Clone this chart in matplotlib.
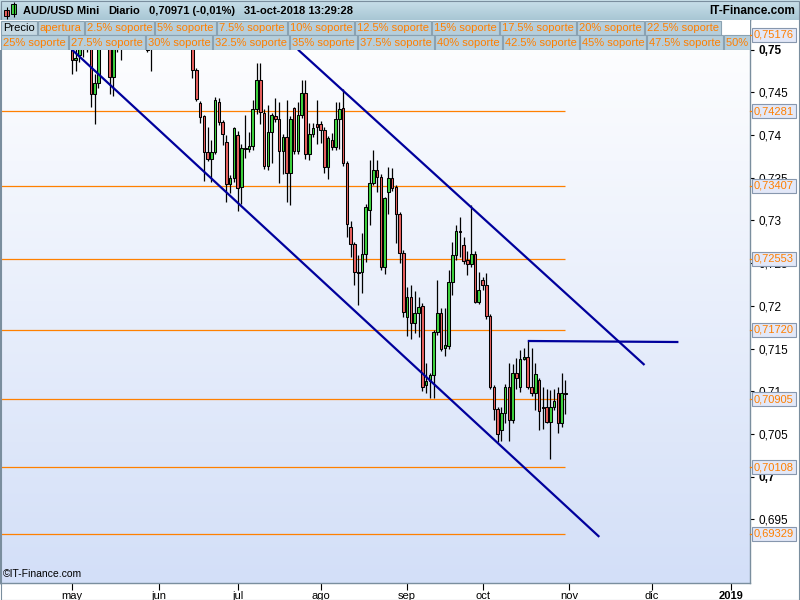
import numpy as np
import pandas as pd
import matplotlib
matplotlib.use('Agg')
import matplotlib.pyplot as plt
import matplotlib.transforms as mtransforms
from matplotlib.patches import Rectangle
from matplotlib.colors import LinearSegmentedColormap

plt.rcParams['font.family'] = ['Liberation Sans', 'DejaVu Sans']

# daily AUD/USD candles, one per weekday starting 1 May 2018
first_day = '2018-05-01'
opens = [.7501, .7488, .7494, .7520, .7512, .7520, .7448, .7461, .7515, .7525,
         .7518, .7468, .7515, .7522, .7530, .7540, .7535, .7548, .7538, .7530,
         .7505, .7510, .7525, .7560, .7590, .7610, .7600, .7620, .7600, .7610,
         .7580, .7560, .7530, .7476, .7437, .7422, .7380, .7372, .7380, .7439,
         .7415, .7392, .7343, .7350, .7400, .7339, .7385, .7384, .7387, .7430,
         .7464, .7426, .7364, .7403, .7422, .7419, .7381, .7398, .7355, .7432,
         .7381, .7423, .7449, .7378, .7401, .7413, .7413, .7406, .7362, .7394,
         .7386, .7419, .7432, .7367, .7292, .7272, .7240, .7240, .7261, .7312,
         .7344, .7359, .7351, .7245, .7333, .7350, .7339, .7307, .7262, .7187,
         .7210, .7180, .7192, .7200, .7107, .7112, .7119, .7169, .7191, .7151,
         .7153, .7228, .7260, .7288, .7271, .7254, .7249, .7261, .7205, .7230,
         .7224, .7188, .7105, .7079, .7055, .7075, .7105, .7066, .7121, .7105,
         .7138, .7140, .7105, .7098, .7113, .7081, .7081, .7064, .7081, .7098,
         .7063, .7098]
highs = [.7512, .7503, .7522, .7530, .7535, .7528, .7472, .7522, .7540, .7535,
         .7525, .7522, .7532, .7540, .7550, .7552, .7560, .7558, .7550, .7540,
         .7515, .7535, .7570, .7600, .7625, .7630, .7640, .7630, .7625, .7620,
         .7590, .7570, .7540, .7478, .7440, .7424, .7409, .7394, .7444, .7443,
         .7418, .7400, .7353, .7409, .7405, .7390, .7423, .7403, .7441, .7484,
         .7484, .7430, .7435, .7426, .7443, .7439, .7401, .7441, .7422, .7433,
         .7439, .7464, .7464, .7414, .7414, .7441, .7416, .7409, .7399, .7402,
         .7439, .7439, .7454, .7370, .7299, .7275, .7260, .7285, .7319, .7371,
         .7382, .7371, .7354, .7328, .7362, .7361, .7342, .7310, .7265, .7222,
         .7224, .7217, .7210, .7203, .7133, .7121, .7172, .7230, .7198, .7198,
         .7242, .7275, .7295, .7304, .7281, .7264, .7318, .7264, .7240, .7234,
         .7238, .7190, .7107, .7082, .7082, .7108, .7133, .7132, .7139, .7148,
         .7151, .7159, .7151, .7133, .7116, .7105, .7102, .7101, .7103, .7105,
         .7121, .7113]
lows = [.7472, .7475, .7485, .7491, .7497, .7433, .7413, .7455, .7508, .7506,
        .7448, .7446, .7497, .7488, .7515, .7520, .7525, .7525, .7518, .7505,
        .7497, .7475, .7515, .7550, .7580, .7585, .7590, .7590, .7585, .7570,
        .7540, .7520, .7467, .7440, .7414, .7346, .7369, .7345, .7378, .7412,
        .7388, .7322, .7332, .7345, .7311, .7319, .7373, .7380, .7383, .7425,
        .7413, .7360, .7359, .7367, .7415, .7344, .7354, .7322, .7318, .7378,
        .7378, .7420, .7372, .7371, .7398, .7389, .7391, .7355, .7348, .7383,
        .7383, .7384, .7364, .7281, .7257, .7224, .7201, .7215, .7251, .7295,
        .7341, .7333, .7242, .7237, .7307, .7335, .7274, .7250, .7187, .7165,
        .7161, .7168, .7164, .7100, .7098, .7092, .7092, .7166, .7147, .7141,
        .7150, .7213, .7254, .7257, .7249, .7236, .7246, .7203, .7202, .7219,
        .7185, .7102, .7066, .7041, .7042, .7063, .7042, .7063, .7102, .7099,
        .7136, .7102, .7094, .7078, .7055, .7056, .7063, .7021, .7078, .7051,
        .7058, .7073]
closes = [.7488, .7490, .7515, .7510, .7525, .7448, .7461, .7515, .7525, .7518,
          .7468, .7515, .7522, .7530, .7540, .7535, .7548, .7538, .7530, .7512,
          .7500, .7525, .7560, .7590, .7610, .7600, .7620, .7600, .7610, .7580,
          .7560, .7530, .7476, .7442, .7421, .7380, .7372, .7380, .7441, .7415,
          .7401, .7343, .7350, .7408, .7338, .7385, .7384, .7387, .7430, .7465,
          .7427, .7364, .7403, .7424, .7419, .7381, .7398, .7355, .7419, .7381,
          .7423, .7449, .7378, .7401, .7408, .7409, .7406, .7362, .7396, .7386,
          .7419, .7430, .7367, .7296, .7272, .7240, .7239, .7261, .7316, .7344,
          .7359, .7351, .7245, .7326, .7350, .7338, .7307, .7262, .7193, .7210,
          .7180, .7192, .7199, .7105, .7112, .7119, .7169, .7192, .7150, .7154,
          .7228, .7260, .7288, .7287, .7252, .7249, .7261, .7205, .7219, .7224,
          .7188, .7105, .7079, .7050, .7075, .7105, .7066, .7121, .7116, .7138,
          .7140, .7105, .7098, .7120, .7077, .7080, .7064, .7081, .7089, .7063,
          .7098, .70971]

# support levels shown at the right
levels = [0.75176, 0.74281, 0.73407, 0.72553, 0.71720, 0.70905, 0.70108, 0.69329]

# hand-drawn trend lines (date, price)
lower_line_dates = ['2018-05-01', '2018-11-13']
lower_line_prices = [0.7500, 0.69294]
upper_line_dates = ['2018-07-24', '2018-11-29']
upper_line_prices = [0.7500, 0.71307]
flat_line_dates = ['2018-10-17', '2018-12-12']
flat_line_prices = [0.71588, 0.71576]

title_parts = ['AUD/USD Mini', 'Diario', '0,70971 (-0,01%)', '31-oct-2018 13:29:28']
month_names = ['may', 'jun', 'jul', 'ago', 'sep', 'oct', 'nov', 'dic', '2019']
legend_row1 = ['Precio', 'apertura', '2.5% soporte', '5% soporte', '7.5% soporte',
               '10% soporte', '12.5% soporte', '15% soporte', '17.5% soporte',
               '20% soporte', '22.5% soporte']
legend_row2 = ['25% soporte', '27.5% soporte', '30% soporte', '32.5% soporte',
               '35% soporte', '37.5% soporte', '40% soporte', '42.5% soporte',
               '45% soporte', '47.5% soporte', '50% soporte']

ORANGE = '#FF7F00'
NAVY = '#00009C'

# weekday axis
days = pd.bdate_range(first_day, '2019-01-31')
pos = pd.Series(np.arange(len(days)), index=days)
idx = np.arange(len(closes))
month_pos = pos.groupby(days.to_period('M')).first().values

fig = plt.figure(figsize=(8, 6), dpi=100)
fig.patch.set_facecolor('white')
ax = fig.add_axes([0.0, 17 / 600, 750 / 800, 563 / 600])
renderer = fig.canvas.get_renderer()

xmin, xmax = -19.1, 180.0
ymin, ymax = 0.68754, 0.75347

bg = LinearSegmentedColormap.from_list('bg', ['#FFFFFF', '#D3DFF8'])
ax.imshow(np.linspace(0, 1, 256).reshape(-1, 1), cmap=bg, aspect='auto',
          extent=[xmin, xmax, ymin, ymax], origin='upper', zorder=0)

# support lines
for lv in levels:
    ax.hlines(lv, xmin, idx[-1], color='#FF8000', lw=0.9, zorder=2)

# candles
o = np.array(opens)
c = np.array(closes)
colors = np.where(c >= o, '#3FD43F', '#E8605E')
ax.vlines(idx, lows, highs, color='black', lw=0.9, zorder=3)
height = np.maximum(np.abs(c - o), 0.00006)
ax.bar(idx, height, bottom=np.minimum(o, c), width=0.68, color=colors,
       edgecolor='black', linewidth=0.75, zorder=4)

# trend lines
for dts, prs in [(lower_line_dates, lower_line_prices),
                 (upper_line_dates, upper_line_prices),
                 (flat_line_dates, flat_line_prices)]:
    xs = [pos[pd.Timestamp(d)] for d in dts]
    ax.plot(xs, prs, color=NAVY, lw=1.6, zorder=5, solid_capstyle='butt')

ax.set_xlim(xmin, xmax)
ax.set_ylim(ymin, ymax)

# y axis on the right
yt = np.round(np.arange(0.695, 0.7501, 0.005), 3)
ax.yaxis.tick_right()
ax.set_yticks(yt)
ax.set_yticklabels([f'{v:.3f}'.rstrip('0').rstrip('.').replace('.', ',') for v in yt])
for lab, v in zip(ax.get_yticklabels(), yt):
    if round(v * 1000) % 50 == 0:
        lab.set_fontweight('bold')
ax.tick_params(axis='y', length=3, pad=3, labelsize=8.5, colors='black', width=0.8)

ax.set_xticks(month_pos[:len(month_names)])
ax.set_xticklabels(month_names)
ax.get_xticklabels()[-1].set_fontweight('bold')
ax.tick_params(axis='x', length=5, pad=1, labelsize=8, width=0.8)

for s in ax.spines.values():
    s.set_color('#7A8E9E')
    s.set_linewidth(1)

# level boxes on the right
tr = mtransforms.blended_transform_factory(ax.transAxes, ax.transData)
for lv in levels:
    ax.plot([1.0, 1.005], [lv, lv], color=ORANGE, lw=0.9, transform=tr,
            clip_on=False, zorder=9)
    ax.text(1.0055, lv, f'{lv:.5f}'.replace('.', ','), transform=tr, color=ORANGE,
            fontsize=8, va='center', ha='left', clip_on=False, zorder=10,
            bbox=dict(boxstyle='square,pad=0.18', fc='#E3E8F8', ec='#8797AE', lw=0.8))

ax.text(0.004, 0.016, '\u00a9IT-Finance.com', transform=ax.transAxes, fontsize=7.5,
        va='center', ha='left', zorder=6)

# header bar
hdr = fig.add_axes([0, 1 - 20 / 600, 1, 20 / 600])
hb = LinearSegmentedColormap.from_list('hb', ['#C9E0EA', '#A8C6D4'])
hdr.imshow(np.linspace(0, 1, 64).reshape(-1, 1), cmap=hb, aspect='auto',
           extent=[0, 800, 20, 0], origin='upper')
hdr.set_xlim(0, 800)
hdr.set_ylim(20, 0)
hdr.axis('off')
hdr.vlines(6.5, 7, 19, color='black', lw=0.8)
hdr.add_patch(Rectangle((4, 10), 5, 6, fc='#E8605E', ec='black', lw=0.7))
hdr.vlines(13.5, 2, 17, color='black', lw=0.8)
hdr.add_patch(Rectangle((11, 4), 5, 10, fc='#3FD43F', ec='black', lw=0.7))
x = 23
for s in title_parts:
    t = hdr.text(x, 11, s, fontsize=8, fontweight='bold', va='center', ha='left')
    x += t.get_window_extent(renderer).width + 9
hdr.text(795, 11, 'IT-Finance.com', fontsize=8.5, fontweight='bold', va='center', ha='right')

# legend rows
lg = fig.add_axes([0, 1 - 50 / 600, 750 / 800, 30 / 600])
lg.set_zorder(5)
lg.set_xlim(0, 750)
lg.set_ylim(50, 20)
lg.axis('off')
lg.add_patch(Rectangle((0, 20), 750, 30, fc='white', ec='none', zorder=0))


def draw_row(labels, y0, y1):
    x = 1
    for lab in labels:
        col = 'black' if lab == 'Precio' else ORANGE
        fc = '#C6D9E3' if lab == 'Precio' else '#B6CEDB'
        t = lg.text(x + 2, (y0 + y1) / 2 + 0.5, lab, color=col, fontsize=8,
                    va='center', ha='left', zorder=2, clip_on=True)
        w = t.get_window_extent(renderer).width
        lg.add_patch(Rectangle((x, y0), w + 4, y1 - y0, fc=fc, ec='#8AA2B2',
                               lw=0.8, zorder=1, clip_on=True))
        x += w + 5


draw_row(legend_row1, 20.5, 35)
draw_row(legend_row2, 35, 49.5)

# outer frame
fig.add_artist(Rectangle((0.5 / 800, 0.5 / 600), 798.5 / 800, 598.5 / 600,
                         transform=fig.transFigure, fill=False, ec='#7A8E9E', lw=0.8))

fig.savefig('out.png', dpi=100)
